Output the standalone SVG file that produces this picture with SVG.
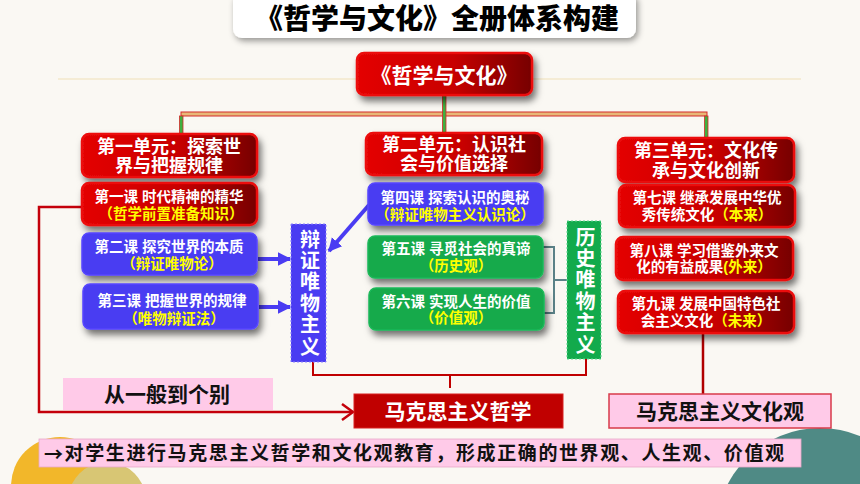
<svg xmlns="http://www.w3.org/2000/svg" width="860" height="484" viewBox="0 0 860 484">
<defs>
<linearGradient id="redG" x1="0" y1="0" x2="1" y2="0">
<stop offset="0" stop-color="#e40404"/>
<stop offset="0.55" stop-color="#c80000"/>
<stop offset="1" stop-color="#760000"/>
</linearGradient>
<filter id="sh" x="-20%" y="-30%" width="150%" height="180%">
<feDropShadow dx="3" dy="5" stdDeviation="3.5" flood-color="#000" flood-opacity="0.55"/>
</filter>
<filter id="shs" x="-20%" y="-30%" width="150%" height="180%">
<feDropShadow dx="2" dy="3" stdDeviation="3" flood-color="#000" flood-opacity="0.4"/>
</filter>
<marker id="ab" viewBox="0 0 10 10" refX="9" refY="5" markerWidth="3.4" markerHeight="5.6" orient="auto" markerUnits="strokeWidth">
<path d="M0,0 L10,5 L0,10 Z" fill="#4a3cf2"/>
</marker>
</defs>
<style>
text{font-family:"Liberation Sans","Noto Sans CJK SC",sans-serif;font-weight:bold;text-anchor:middle;dominant-baseline:central}
.red{fill:url(#redG);stroke:#ec1010;stroke-width:2.5;filter:url(#sh)}
.blue{fill:#4a3cf2;stroke:#5646ff;stroke-width:1.5;filter:url(#sh)}
.green{fill:#12aa4c;stroke:#1cb858;stroke-width:1.5;filter:url(#sh)}
.u{fill:#fff;font-size:18px}
.l{fill:#fff;font-size:14.5px}
.y{fill:#ffff00}
.v{fill:#fff;font-size:20px;writing-mode:vertical-rl;text-anchor:start;letter-spacing:1.4px}
.pink{fill:#ffcae8}
.k{fill:#111;font-size:21px}
.conn{fill:none}
.cjk{font-family:"Noto Sans CJK SC",sans-serif}
</style>
<rect width="860" height="484" fill="#faf8f3"/>
<circle cx="60" cy="486" r="49" fill="#f2b72a"/>
<circle cx="107" cy="501" r="39" fill="#d8c674"/>
<circle cx="820" cy="532" r="104" fill="#4f8a85"/>
<line x1="58" y1="79" x2="801" y2="79" stroke="#f0dfb8" stroke-width="1.2"/>

<g id="title">
<rect x="233" y="-8" width="403" height="46" rx="9" fill="#fff" filter="url(#shs)"/>
<text x="437" y="19" style="font-size:28px;font-weight:900" fill="#000">《哲学与文化》全册体系构建</text>
</g>

<g id="connectors">
<rect x="181" y="112" width="526" height="4" fill="#e8b878" stroke="#d42a2a" stroke-width="1"/>
<rect x="442.5" y="95" width="3.5" height="38" fill="#3fb040" stroke="#d42a2a" stroke-width="0.8"/>
<rect x="179.5" y="116" width="3.5" height="18" fill="#3fb040" stroke="#d42a2a" stroke-width="0.8"/>
<rect x="704.5" y="116" width="3.5" height="22" fill="#3fb040" stroke="#d42a2a" stroke-width="0.8"/>
<line x1="258" y1="259" x2="290" y2="259" stroke="#4a3cf2" stroke-width="4" marker-end="url(#ab)"/>
<line x1="259" y1="307" x2="290" y2="307" stroke="#4a3cf2" stroke-width="4" marker-end="url(#ab)"/>
<line x1="369" y1="205" x2="329" y2="251" stroke="#4a3cf2" stroke-width="4" marker-end="url(#ab)"/>
<path class="conn" d="M543,247 H554 V313 H544 M554,280 H567" stroke="#5a8288" stroke-width="2"/>
<path class="conn" d="M313,362 V375 H586 V359 M450,375 V388" stroke="#c00000" stroke-width="2"/>
<path class="conn" d="M703,333 V394" stroke="#b00000" stroke-width="2.5"/>
<path class="conn" d="M82,207 H39 V412 H352" stroke="#c4000a" stroke-width="2.5"/>
<path class="conn" d="M342,404 L353,412 L342,420" stroke="#c4000a" stroke-width="2.5"/>
</g>

<g id="main">
<rect class="red" x="357" y="53" width="175" height="42" rx="7"/>
<text x="444" y="75" style="font-size:21px" fill="#fff">《哲学与文化》</text>
</g>

<g id="unit1">
<rect class="red" x="82" y="134" width="175" height="43" rx="7"/>
<text class="u"><tspan x="169" y="147">第一单元：探索世</tspan><tspan x="169" y="166">界与把握规律</tspan></text>
</g>
<g id="lesson1">
<rect class="red" x="82" y="183" width="175" height="42" rx="7"/>
<text class="l"><tspan x="169" y="197">第一课 时代精神的精华</tspan><tspan class="y" x="171" y="214">（哲学前置准备知识）</tspan></text>
</g>
<g id="lesson2">
<rect class="blue" x="82" y="233" width="175" height="42" rx="7"/>
<text class="l"><tspan x="169" y="247">第二课 探究世界的本质</tspan><tspan class="y" x="172" y="264">（辩证唯物论）</tspan></text>
</g>
<g id="lesson3">
<rect class="blue" x="83" y="284" width="175" height="45" rx="7"/>
<text class="l"><tspan x="172" y="301">第三课 把握世界的规律</tspan><tspan class="y" x="174" y="319">（唯物辩证法）</tspan></text>
</g>

<g id="dialectical">
<rect x="291" y="224" width="35" height="138" fill="#4a3cf2" stroke="#8a80ff" stroke-width="1" stroke-dasharray="2 2"/>
<text class="v" x="308.5" y="229">辩证唯物主义</text>
</g>

<g id="unit2">
<rect class="red" x="366" y="133" width="176" height="42" rx="7"/>
<text class="u"><tspan x="454" y="145">第二单元：认识社</tspan><tspan x="454" y="164">会与价值选择</tspan></text>
</g>
<g id="lesson4">
<rect class="blue" x="368" y="183" width="175" height="42" rx="7"/>
<text class="l"><tspan x="455" y="198">第四课 探索认识的奥秘</tspan><tspan class="y" x="455" y="215">（辩证唯物主义认识论）</tspan></text>
</g>
<g id="lesson5">
<rect class="green" x="368" y="236" width="175" height="42" rx="7"/>
<text class="l"><tspan x="456" y="249">第五课 寻觅社会的真谛</tspan><tspan class="y" x="456" y="266">（历史观）</tspan></text>
</g>
<g id="lesson6">
<rect class="green" x="369" y="288" width="175" height="42" rx="7"/>
<text class="l"><tspan x="456" y="302">第六课 实现人生的价值</tspan><tspan class="y" x="456" y="318">（价值观）</tspan></text>
</g>

<g id="historical">
<rect x="567" y="221" width="34" height="138" fill="#12aa4c" stroke="#60d890" stroke-width="1" stroke-dasharray="2 2"/>
<text class="v" x="584" y="227">历史唯物主义</text>
</g>

<g id="unit3">
<rect class="red" x="618" y="138" width="176" height="44" rx="7"/>
<text class="u"><tspan x="706" y="151">第三单元：文化传</tspan><tspan x="706" y="171">承与文化创新</tspan></text>
</g>
<g id="lesson7">
<rect class="red" x="619" y="185" width="176" height="42" rx="7"/>
<text class="l"><tspan x="707" y="198">第七课 继承发展中华优</tspan><tspan x="707" y="215">秀传统文化<tspan class="y">（本来）</tspan></tspan></text>
</g>
<g id="lesson8">
<rect class="red" x="616" y="237" width="177" height="43" rx="7"/>
<text class="l"><tspan x="704" y="251">第八课 学习借鉴外来文</tspan><tspan x="704" y="267">化的有益成果<tspan class="y">(外来）</tspan></tspan></text>
</g>
<g id="lesson9">
<rect class="red" x="618" y="291" width="176" height="42" rx="7"/>
<text class="l"><tspan x="706" y="304">第九课 发展中国特色社</tspan><tspan x="706" y="321">会主义文化<tspan class="y">（未来）</tspan></tspan></text>
</g>

<g id="general">
<rect class="pink" x="63" y="378" width="210" height="32"/>
<text class="k" x="167" y="394">从一般到个别</text>
</g>
<g id="marxphil">
<rect x="354" y="394" width="209" height="34" fill="#c00000" stroke="#d82020" stroke-width="1"/>
<text x="458" y="411" style="font-size:21px" fill="#fff">马克思主义哲学</text>
</g>
<g id="marxcult">
<rect class="pink" x="609" y="394" width="222" height="34" stroke="#d83a4a" stroke-width="1.5"/>
<text class="k" x="720" y="411">马克思主义文化观</text>
</g>
<g id="banner">
<rect class="pink" x="39" y="439" width="762" height="28" stroke="#e8a8c8" stroke-width="0.8"/>
<text x="414" y="453" style="font-size:19px" fill="#111" textLength="740" lengthAdjust="spacing"><tspan class="cjk">→</tspan>对学生进行马克思主义哲学和文化观教育，形成正确的世界观、人生观、价值观</text>
</g>
</svg>
